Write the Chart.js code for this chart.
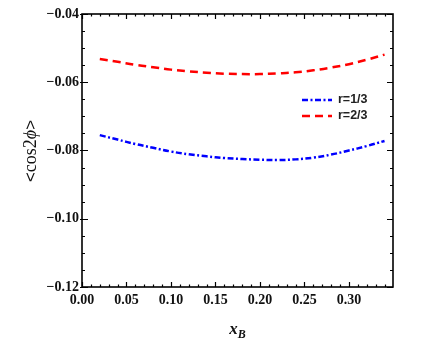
<!DOCTYPE html>
<html>
<head>
<meta charset="utf-8">
<script src="https://cdn.jsdelivr.net/npm/chart.js@4"></script>
<style>
  body { margin: 0; background: #fff; }
  canvas { display: block; }
</style>
</head>
<body>
<canvas id="chart" width="436" height="354"></canvas>
<script>
// x_B values and the two curves
const xB = [0.02, 0.04, 0.06, 0.08, 0.10, 0.12, 0.14, 0.16, 0.18, 0.20, 0.22, 0.24, 0.26, 0.28, 0.30, 0.32, 0.34];
const r13 = [-0.0755, -0.0768, -0.0781, -0.0792, -0.0803, -0.0811, -0.0817, -0.0822, -0.0825, -0.0827, -0.0828, -0.0826, -0.0821, -0.0812, -0.0800, -0.0787, -0.0772];
const r23 = [-0.0532, -0.0540, -0.0549, -0.0556, -0.0563, -0.0568, -0.0572, -0.0575, -0.0576, -0.0576, -0.0574, -0.0571, -0.0565, -0.0557, -0.0547, -0.0534, -0.0519];
const seriesNames = ["r=1/3", "r=2/3"];

const xMajor = [0.00, 0.05, 0.10, 0.15, 0.20, 0.25, 0.30];
const yMajor = [-0.12, -0.10, -0.08, -0.06, -0.04];
const xMinorStep = 0.01;
const yMinorStep = 0.005;

const blueDash = [6, 2.5, 2, 2.5];
const redDash = [8, 5];

function pts(ys) {
  return xB.map((x, i) => ({ x: x, y: ys[i] }));
}

function fmt(v, d) {
  const s = Math.abs(v).toFixed(d);
  return v < -1e-9 ? "\u2212" + s : s;
}

// frame, inward ticks, legend and axis titles
const decor = {
  id: "decor",
  afterDraw(chart) {
    const ctx = chart.ctx;
    const a = chart.chartArea;
    const xs = chart.scales.x, ys = chart.scales.y;
    ctx.save();
    ctx.strokeStyle = "#000";
    ctx.lineWidth = 1.6;
    ctx.strokeRect(a.left, a.top, a.right - a.left, a.bottom - a.top);

    ctx.lineWidth = 1.2;
    ctx.beginPath();
    for (let v = 0; v <= xs.max + 1e-9; v += xMinorStep) {
      const px = Math.round(xs.getPixelForValue(v)) + 0.5;
      const major = xMajor.some(m => Math.abs(m - v) < 1e-6);
      const len = major ? 5 : 2.5;
      ctx.moveTo(px, a.bottom); ctx.lineTo(px, a.bottom - len);
      ctx.moveTo(px, a.top); ctx.lineTo(px, a.top + len);
    }
    for (let v = ys.min; v <= ys.max + 1e-9; v += yMinorStep) {
      const py = Math.round(ys.getPixelForValue(v)) + 0.5;
      const major = yMajor.some(m => Math.abs(m - v) < 1e-6);
      const len = major ? 6 : 3;
      ctx.moveTo(a.left - (major ? 2 : 0), py); ctx.lineTo(a.left + len, py);
      ctx.moveTo(a.right, py); ctx.lineTo(a.right - len, py);
    }
    ctx.stroke();

    // legend
    const leg = [
      { y: 100, color: "#0000ff", dash: blueDash, label: seriesNames[0] },
      { y: 116, color: "#ff0000", dash: redDash, label: seriesNames[1] }
    ];
    leg.forEach(l => {
      ctx.beginPath();
      ctx.setLineDash(l.dash);
      ctx.strokeStyle = l.color;
      ctx.lineWidth = 2.5;
      ctx.moveTo(302, l.y); ctx.lineTo(332, l.y);
      ctx.stroke();
      ctx.setLineDash([]);
      ctx.fillStyle = "#222";
      ctx.font = 'bold 12.5px "Liberation Sans"';
      ctx.textBaseline = "middle";
      ctx.textAlign = "left";
      ctx.fillText(l.label, 338, l.y);
    });

    // y title <cos2ϕ>
    ctx.save();
    ctx.translate(31, 151);
    ctx.rotate(-Math.PI / 2);
    const parts = [
      { t: "<", f: '17px "Liberation Sans"' },
      { t: "cos2", f: '18px "Liberation Serif"' },
      { t: "\u03D5", f: 'italic 18px "Liberation Serif"' },
      { t: ">", f: '17px "Liberation Sans"' }
    ];
    let w = 0;
    parts.forEach(p => { ctx.font = p.f; w += ctx.measureText(p.t).width; });
    let x0 = -w / 2;
    ctx.fillStyle = "#111";
    ctx.textBaseline = "middle";
    ctx.textAlign = "left";
    parts.forEach(p => { ctx.font = p.f; ctx.fillText(p.t, x0, 0); x0 += ctx.measureText(p.t).width; });
    ctx.restore();

    // x title x_B
    ctx.fillStyle = "#111";
    ctx.textBaseline = "alphabetic";
    ctx.textAlign = "left";
    ctx.font = 'italic bold 17px "Liberation Serif"';
    const wx = ctx.measureText("x").width;
    ctx.font = 'italic bold 12px "Liberation Serif"';
    const wb = ctx.measureText("B").width;
    const sx = (a.left + a.right) / 2 - (wx + wb) / 2;
    ctx.font = 'italic bold 17px "Liberation Serif"';
    ctx.fillText("x", sx, 334);
    ctx.font = 'italic bold 12px "Liberation Serif"';
    ctx.fillText("B", sx + wx, 338);
    ctx.restore();
  }
};

const tickFont = { family: '"Liberation Serif"', size: 14, weight: "bold" };

new Chart(document.getElementById("chart"), {
  type: "line",
  data: {
    datasets: [
      {
        label: seriesNames[0],
        data: pts(r13),
        borderColor: "#0000ff",
        borderWidth: 2.5,
        borderDash: blueDash,
        pointRadius: 0,
        tension: 0.4,
        fill: false
      },
      {
        label: seriesNames[1],
        data: pts(r23),
        borderColor: "#ff0000",
        borderWidth: 2.5,
        borderDash: redDash,
        pointRadius: 0,
        tension: 0.4,
        fill: false
      }
    ]
  },
  options: {
    responsive: false,
    animation: false,
    devicePixelRatio: 1,
    layout: { padding: { left: 0, top: 14, right: 43, bottom: 0 } },
    plugins: { legend: { display: false }, tooltip: { enabled: false } },
    scales: {
      x: {
        type: "linear",
        min: 0,
        max: 0.3495,
        grid: { display: false, drawTicks: false },
        border: { display: false },
        afterBuildTicks: s => { s.ticks = xMajor.map(v => ({ value: v })); },
        afterFit: s => { s.height = 67; },
        ticks: {
          autoSkip: false,
          maxRotation: 0,
          padding: 5,
          color: "#111",
          font: tickFont,
          callback: v => fmt(v, 2)
        }
      },
      y: {
        min: -0.12,
        max: -0.04,
        grid: { display: false, drawTicks: false },
        border: { display: false },
        afterBuildTicks: s => { s.ticks = yMajor.map(v => ({ value: v })); },
        afterFit: s => { s.width = 82; },
        ticks: {
          autoSkip: false,
          padding: 3,
          color: "#111",
          font: tickFont,
          callback: v => fmt(v, 2)
        }
      }
    }
  },
  plugins: [decor]
});
</script>
</body>
</html>
